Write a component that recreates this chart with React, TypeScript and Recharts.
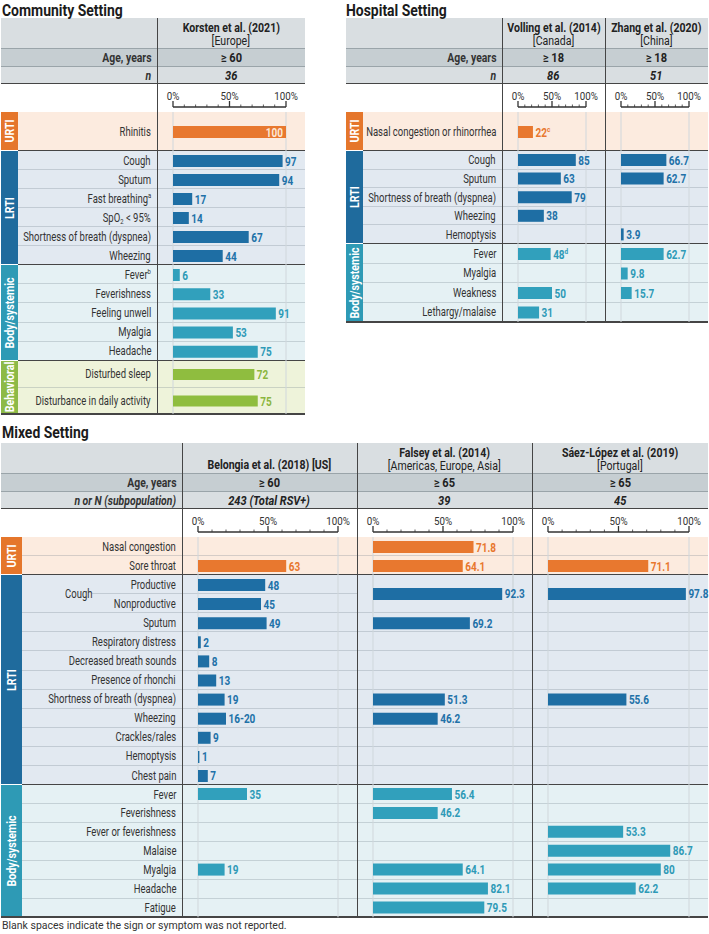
import React from "react";
import { BarChart, Bar, XAxis, YAxis, CartesianGrid, LabelList } from "recharts";

// ===== Tick labels =====
const axisTicks = [0, 10, 20, 30, 40, 50, 60, 70, 80, 90, 100];
const axisMajorTicks = [0, 50, 100];
const groupNames = { urti: "URTI", lrti: "LRTI", body: "Body/systemic", behav: "Behavioral" };

// ===== Community setting =====
const communityTitle = "Community Setting";
const communityStudies = [["Korsten et al. (2021)", "[Europe]"]];
const communityAges = ["≥ 60"];
const communityNs = ["36"];
const communityUrtiRows = ["Rhinitis"];
const communityLrtiRows = ["Cough", "Sputum", "Fast breathing^a", "SpO_2 < 95%", "Shortness of breath (dyspnea)", "Wheezing"];
const communityBodyRows = ["Fever^b", "Feverishness", "Feeling unwell", "Myalgia", "Headache"];
const communityBehavioralRows = ["Disturbed sleep", "Disturbance in daily activity"];
const korstenUrti = [100];
const korstenLrti = [97, 94, 17, 14, 67, 44];
const korstenBody = [6, 33, 91, 53, 75];
const korstenBehavioral = [72, 75];

// ===== Hospital setting =====
const hospitalTitle = "Hospital Setting";
const hospitalStudies = [["Volling et al. (2014)", "[Canada]"], ["Zhang et al. (2020)", "[China]"]];
const hospitalAges = ["≥ 18", "≥ 18"];
const hospitalNs = ["86", "51"];
const hospitalUrtiRows = ["Nasal congestion or rhinorrhea"];
const hospitalLrtiRows = ["Cough", "Sputum", "Shortness of breath (dyspnea)", "Wheezing", "Hemoptysis"];
const hospitalBodyRows = ["Fever", "Myalgia", "Weakness", "Lethargy/malaise"];
const vollingUrti = [22];
const vollingUrtiLabels = ["22^c"];
const vollingLrti = [85, 63, 79, 38, null];
const vollingBody = [48, null, 50, 31];
const vollingBodyLabels = ["48^d", null, null, null];
const zhangUrti = [null];
const zhangLrti = [66.7, 62.7, null, null, 3.9];
const zhangBody = [62.7, 9.8, 15.7, null];

// ===== Mixed setting =====
const mixedTitle = "Mixed Setting";
const mixedStudies = [["Belongia et al. (2018) [US]"], ["Falsey et al. (2014)", "[Americas, Europe, Asia]"], ["Sáez-López et al. (2019)", "[Portugal]"]];
const mixedAges = ["≥ 60", "≥ 65", "≥ 65"];
const mixedNs = ["243 (Total RSV+)", "39", "45"];
const mixedUrtiRows = ["Nasal congestion", "Sore throat"];
const mixedCoughLabel = "Cough";
const mixedLrtiRows = ["Productive", "Nonproductive", "Sputum", "Respiratory distress", "Decreased breath sounds", "Presence of rhonchi", "Shortness of breath (dyspnea)", "Wheezing", "Crackles/rales", "Hemoptysis", "Chest pain"];
const mixedBodyRows = ["Fever", "Feverishness", "Fever or feverishness", "Malaise", "Myalgia", "Headache", "Fatigue"];
const belongiaUrti = [null, 63];
const belongiaLrti = [48, 45, 49, 2, 8, 13, 19, 20, 9, 1, 7];
const belongiaLrtiLabels = [null, null, null, null, null, null, null, "16-20", null, null, null];
const belongiaBody = [35, null, null, null, 19, null, null];
const falseyUrti = [71.8, 64.1];
const falseyCough = [92.3];
const falseyLrti = [null, null, 69.2, null, null, null, 51.3, 46.2, null, null, null];
const falseyBody = [56.4, 46.2, null, null, 64.1, 82.1, 79.5];
const saezUrti = [null, 71.1];
const saezCough = [97.8];
const saezLrti = [null, null, null, null, null, null, 55.6, null, null, null, null];
const saezBody = [null, null, 53.3, 86.7, 80, 62.2, null];

const footnote = "Blank spaces indicate the sign or symptom was not reported.";

// ===== Styles =====
const PALETTE: any = {
  urti: { bar: "#e8782f", band: "#e5762b", bg: "#fcebdf", text: "#e8772e" },
  lrti: { bar: "#1e6ea4", band: "#1f6b9d", bg: "#e2e9f1", text: "#2171a8" },
  body: { bar: "#31a0bc", band: "#2e9ab5", bg: "#e5f1f4", text: "#2e9ab7" },
  behav: { bar: "#8fbd3f", band: "#8dba47", bg: "#eef3da", text: "#8bb63e" },
};
const FONT = "Roboto, 'Noto Sans', sans-serif";
const SEP = "rgba(110,125,135,0.28)";
const DARK = "#454545";
const M_LEFT = 16;
const M_RIGHT = 19;

const panels: any[] = [
  {
    title: communityTitle, titleX: 2, titleY: 10,
    left: 1, right: 305, top: 18, labelDiv: 157, bandW: 17,
    cols: [[157, 305]], studies: communityStudies, ages: communityAges, ns: communityNs,
    ageLabel: "Age, years", nLabel: "n",
    groups: [
      { kind: "urti", rows: communityUrtiRows, rowH: 39, bar: 12, series: [{ values: korstenUrti }] },
      { kind: "lrti", rows: communityLrtiRows, rowH: 19, bar: 12, series: [{ values: korstenLrti }] },
      { kind: "body", rows: communityBodyRows, rowH: 19.2, bar: 12, series: [{ values: korstenBody }] },
      { kind: "behav", rows: communityBehavioralRows, rowH: 26.5, bar: 11, series: [{ values: korstenBehavioral }] },
    ],
  },
  {
    title: hospitalTitle, titleX: 346, titleY: 10,
    left: 346, right: 708, top: 18, labelDiv: 502, bandW: 17,
    cols: [[502, 605], [605, 708]], studies: hospitalStudies, ages: hospitalAges, ns: hospitalNs,
    ageLabel: "Age, years", nLabel: "n",
    groups: [
      { kind: "urti", rows: hospitalUrtiRows, rowH: 39, bar: 12, series: [{ values: vollingUrti, labels: vollingUrtiLabels }, { values: zhangUrti }] },
      { kind: "lrti", rows: hospitalLrtiRows, rowH: 18.6, bar: 12, series: [{ values: vollingLrti }, { values: zhangLrti }] },
      { kind: "body", rows: hospitalBodyRows, rowH: 19.5, bar: 12, series: [{ values: vollingBody, labels: vollingBodyLabels }, { values: zhangBody }] },
    ],
  },
  {
    title: mixedTitle, titleX: 2, titleY: 432,
    left: 1, right: 708, top: 443, labelDiv: 182, bandW: 21,
    cols: [[182, 357], [357, 532], [532, 708]], studies: mixedStudies, ages: mixedAges, ns: mixedNs,
    ageLabel: "Age, years", nLabel: "n or N (subpopulation)",
    groups: [
      { kind: "urti", rows: mixedUrtiRows, rowH: 19, bar: 12, series: [{ values: belongiaUrti }, { values: falseyUrti }, { values: saezUrti }] },
      {
        kind: "lrti", rows: mixedLrtiRows, rowH: 19.1, bar: 12,
        span: { label: mixedCoughLabel, from: 0, to: 1, x: 79, sepX: 92 },
        series: [
          { values: belongiaLrti, labels: belongiaLrtiLabels },
          { values: falseyLrti, merged: falseyCough },
          { values: saezLrti, merged: saezCough },
        ],
      },
      { kind: "body", rows: mixedBodyRows, rowH: 18.9, bar: 12, series: [{ values: belongiaBody }, { values: falseyBody }, { values: saezBody }] },
    ],
  },
];

// ===== Helpers =====
function rich(s: string) {
  const out: any[] = [];
  let buf = "";
  for (let i = 0; i < s.length; i++) {
    const ch = s[i];
    if ((ch === "^" || ch === "_") && i + 1 < s.length) {
      if (buf) out.push(buf);
      buf = "";
      out.push(
        <span key={i} style={{ fontSize: "0.62em", position: "relative", top: ch === "^" ? "-0.55em" : "0.3em" }}>
          {s[i + 1]}
        </span>
      );
      i++;
    } else buf += ch;
  }
  if (buf) out.push(buf);
  return out;
}

function Txt({ x, y, align = "left", size = 13, weight = 400, italic = false, scale = 0.73, color = "#333", children }: any) {
  const box = 600;
  let left = x, origin = "left center";
  if (align === "right") { left = x - box; origin = "right center"; }
  if (align === "center") { left = x - box / 2; origin = "center center"; }
  return (
    <div style={{ position: "absolute", left, top: y - size * 0.5, width: box, height: size, lineHeight: `${size}px`, fontSize: size, fontWeight: weight, fontStyle: italic ? "italic" : "normal", color, whiteSpace: "nowrap", textAlign: align as any }}>
      <span style={{ display: "inline-block", transform: `scaleX(${scale})`, transformOrigin: origin }}>{children}</span>
    </div>
  );
}

function Rect({ x, y, w, h, c }: any) {
  return <div style={{ position: "absolute", left: x, top: y, width: w, height: h, background: c }} />;
}
function HLine({ x, y, w, c, t = 1 }: any) {
  return <div style={{ position: "absolute", left: x, top: y - t / 2, width: w, height: t, background: c }} />;
}
function VLine({ x, y, h, c, t = 1 }: any) {
  return <div style={{ position: "absolute", left: x - t / 2, top: y, width: t, height: h, background: c }} />;
}

const makeLabel = (color: string) => (props: any) => {
  const vb = props.viewBox || props;
  const value = props.value;
  if (value == null || value === "") return null;
  const x = Number(vb.x), y = Number(vb.y), width = Number(vb.width), height = Number(vb.height);
  const [main, sup] = String(value).split("^");
  const inside = main === "100";
  const tx = inside ? x + width - 3 : x + width + 2.5;
  const ty = y + height / 2;
  return (
    <text transform={`translate(${tx},${ty}) scale(0.8,1)`} x={0} y={0} dy="0.36em" textAnchor={inside ? "end" : "start"}
      fill={inside ? "#fde7d6" : color} fontSize={12.5} fontWeight={700} fontFamily={FONT}>
      {main}
      {sup ? <tspan dy={-5} fontSize={8}>{sup}</tspan> : null}
    </text>
  );
};

function GroupChart({ x, y, w, h, names, values, labels, kind, barSize }: any) {
  const pal = PALETTE[kind];
  const data = names.map((n: string, i: number) => ({
    name: `${i}-${n}`,
    v: values[i] == null ? null : values[i],
    lbl: values[i] == null ? null : (labels && labels[i]) || String(values[i]),
  }));
  return (
    <div style={{ position: "absolute", left: x, top: y, width: w, height: h }}>
      <BarChart width={w} height={h} data={data} layout="vertical" margin={{ top: 0, right: M_RIGHT, bottom: 0, left: M_LEFT }} barCategoryGap={0}>
        <CartesianGrid horizontal={false} stroke="#d0d7dc" />
        <XAxis type="number" domain={[0, 100]} ticks={axisMajorTicks} tick={false} tickLine={false} axisLine={false} height={0} />
        <YAxis type="category" dataKey="name" hide />
        <Bar dataKey="v" fill={pal.bar} barSize={barSize} isAnimationActive={false}>
          <LabelList dataKey="lbl" content={makeLabel(pal.text)} />
        </Bar>
      </BarChart>
    </div>
  );
}

const AxisTick = (props: any) => {
  const { x, y, payload } = props;
  const v = payload.value;
  const major = axisMajorTicks.includes(v);
  return (
    <g>
      <line x1={x} x2={x} y1={y} y2={y - (major ? 6 : 2.5)} stroke="#333" strokeWidth={major ? 1.3 : 0.8} />
      {major ? (
        <text transform={`translate(${x},${y - 7.5}) scale(0.85,1)`} x={0} y={0} textAnchor="middle" fontSize={11.5} fill="#333" fontFamily={FONT}>
          {`${v}%`}
        </text>
      ) : null}
    </g>
  );
};

function AxisRow({ x, y, w, h }: any) {
  return (
    <div style={{ position: "absolute", left: x, top: y, width: w, height: h }}>
      <BarChart width={w} height={h} data={[{ name: "axis", v: 0 }]} layout="vertical" margin={{ top: 3, right: M_RIGHT, bottom: 0, left: M_LEFT }}>
        <XAxis type="number" orientation="top" domain={[0, 100]} ticks={axisTicks} interval={0} height={20} tickSize={0} tickMargin={0}
          axisLine={{ stroke: "#333", strokeWidth: 1.3 }} tickLine={false} tick={<AxisTick />} />
        <YAxis type="category" dataKey="name" hide />
        <Bar dataKey="v" fill="none" isAnimationActive={false} />
      </BarChart>
    </div>
  );
}

function Panel({ p }: any) {
  const H_HDR = 30, H_AGE = 18.5, H_N = 17, H_AX = 28;
  const yAge = p.top + H_HDR, yN = yAge + H_AGE, yAx = yN + H_N, yG = yAx + H_AX;
  const W = p.right - p.left;
  const els: any[] = [];
  const texts: any[] = [];
  const labelRight = p.labelDiv - 6;

  texts.push(<Txt key="title" x={p.titleX} y={p.titleY} size={17} weight={700} scale={0.82} color="#1b1b1b">{p.title}</Txt>);
  els.push(<Rect key="hb" x={p.left} y={p.top} w={W} h={H_HDR} c="#d9dee1" />);
  els.push(<Rect key="ab" x={p.left} y={yAge} w={W} h={H_AGE} c="#c6ced2" />);
  els.push(<Rect key="nb" x={p.left} y={yN} w={W} h={H_N} c="#d9dee1" />);
  els.push(<HLine key="l1" x={p.left} y={yAge} w={W} c="#9aa4a9" />);
  els.push(<HLine key="l2" x={p.left} y={yN} w={W} c="#9aa4a9" />);
  els.push(<HLine key="l3" x={p.left} y={yAx} w={W} c={DARK} t={1.5} />);

  texts.push(<Txt key="agel" x={labelRight} y={yAge + H_AGE / 2} align="right" weight={700} scale={0.8}>{p.ageLabel}</Txt>);
  texts.push(<Txt key="nl" x={labelRight} y={yN + H_N / 2} align="right" weight={700} italic scale={0.8}>{p.nLabel}</Txt>);

  p.cols.forEach((c: number[], j: number) => {
    const cx = (c[0] + c[1]) / 2;
    const lines = p.studies[j];
    if (lines.length === 2) {
      texts.push(<Txt key={`h1${j}`} x={cx} y={p.top + 9.5} align="center" size={12} weight={700} scale={0.88} color="#222">{lines[0]}</Txt>);
      texts.push(<Txt key={`h2${j}`} x={cx} y={p.top + 22.5} align="center" size={12} scale={0.88} color="#222">{lines[1]}</Txt>);
    } else {
      texts.push(<Txt key={`h1${j}`} x={cx} y={p.top + 22} align="center" size={12} weight={700} scale={0.88} color="#222">{lines[0]}</Txt>);
    }
    texts.push(<Txt key={`a${j}`} x={cx} y={yAge + H_AGE / 2} align="center" size={13} weight={700} scale={0.85} color="#222">{p.ages[j]}</Txt>);
    texts.push(<Txt key={`n${j}`} x={cx} y={yN + H_N / 2} align="center" size={13} weight={700} italic scale={0.85} color="#222">{p.ns[j]}</Txt>);
    els.push(<AxisRow key={`ax${j}`} x={c[0]} y={yAx} w={c[1] - c[0]} h={H_AX} />);
  });

  let gy = yG;
  const charts: any[] = [];
  p.groups.forEach((g: any, gi: number) => {
    const n = g.rows.length;
    const h = n * g.rowH;
    const pal = PALETTE[g.kind];
    const bx = p.left + p.bandW;
    els.push(<Rect key={`gb${gi}`} x={bx} y={gy} w={p.right - bx} h={h} c={pal.bg} />);
    els.push(<Rect key={`band${gi}`} x={p.left} y={gy + 0.75} w={p.bandW - 0.5} h={h - 1.5} c={pal.band} />);
    texts.push(
      <div key={`bt${gi}`} style={{ position: "absolute", left: p.left + p.bandW / 2, top: gy + h / 2, transform: "translate(-50%,-50%) rotate(-90deg) scaleX(0.85)", color: "#fff", fontWeight: 700, fontSize: 12.5, whiteSpace: "nowrap", lineHeight: "14px" }}>
        {groupNames[g.kind as keyof typeof groupNames]}
      </div>
    );
    for (let i = 1; i < n; i++) {
      const ry = gy + i * g.rowH;
      const inSpan = g.span && i > g.span.from && i <= g.span.to;
      const sx = inSpan ? g.span.sepX : bx;
      els.push(<HLine key={`rs${gi}-${i}-l`} x={sx} y={ry} w={p.labelDiv - sx} c={SEP} />);
      p.cols.forEach((c: number[], j: number) => {
        const s = g.series[j];
        if (inSpan && s.merged) return;
        els.push(<HLine key={`rs${gi}-${i}-${j}`} x={c[0]} y={ry} w={c[1] - c[0]} c={SEP} />);
      });
    }
    if (gi > 0) els.push(<HLine key={`gs${gi}`} x={bx} y={gy} w={p.right - bx} c={DARK} t={1.5} />);
    g.rows.forEach((r: string, i: number) => {
      texts.push(<Txt key={`rl${gi}-${i}`} x={labelRight} y={gy + (i + 0.5) * g.rowH} align="right" size={13} scale={0.73} color="#333">{rich(r)}</Txt>);
    });
    if (g.span) {
      texts.push(<Txt key={`sp${gi}`} x={g.span.x} y={gy + ((g.span.from + g.span.to + 1) / 2) * g.rowH} align="center" size={13} scale={0.73} color="#333">{g.span.label}</Txt>);
    }
    p.cols.forEach((c: number[], j: number) => {
      const s = g.series[j];
      charts.push(<GroupChart key={`gc${gi}-${j}`} x={c[0]} y={gy} w={c[1] - c[0]} h={h} names={g.rows} values={s.values} labels={s.labels} kind={g.kind} barSize={g.bar} />);
      if (s.merged && g.span) {
        charts.push(<GroupChart key={`gm${gi}-${j}`} x={c[0]} y={gy + g.span.from * g.rowH} w={c[1] - c[0]} h={(g.span.to - g.span.from + 1) * g.rowH} names={[g.span.label]} values={s.merged} kind={g.kind} barSize={g.bar} />);
      }
    });
    gy += h;
  });
  els.push(<HLine key="bottom" x={p.left} y={gy} w={W} c={DARK} t={2} />);
  els.push(<VLine key="vd" x={p.labelDiv} y={p.top} h={gy - p.top} c={DARK} />);
  p.cols.forEach((c: number[], j: number) => {
    if (j > 0) els.push(<VLine key={`vc${j}`} x={c[0]} y={p.top} h={gy - p.top} c={DARK} />);
  });
  return (
    <>
      {els}
      {charts}
      {texts}
    </>
  );
}

export default function App() {
  return (
    <div style={{ position: "absolute", left: 0, top: 0, width: 709, height: 934, background: "#fff", fontFamily: FONT, color: "#333", overflow: "hidden" }}>
      <style>{`.recharts-surface{overflow:visible}`}</style>
      {panels.map((p, i) => (
        <Panel key={i} p={p} />
      ))}
      <Txt x={2} y={926} size={10.5} scale={1} color="#333">{footnote}</Txt>
    </div>
  );
}
